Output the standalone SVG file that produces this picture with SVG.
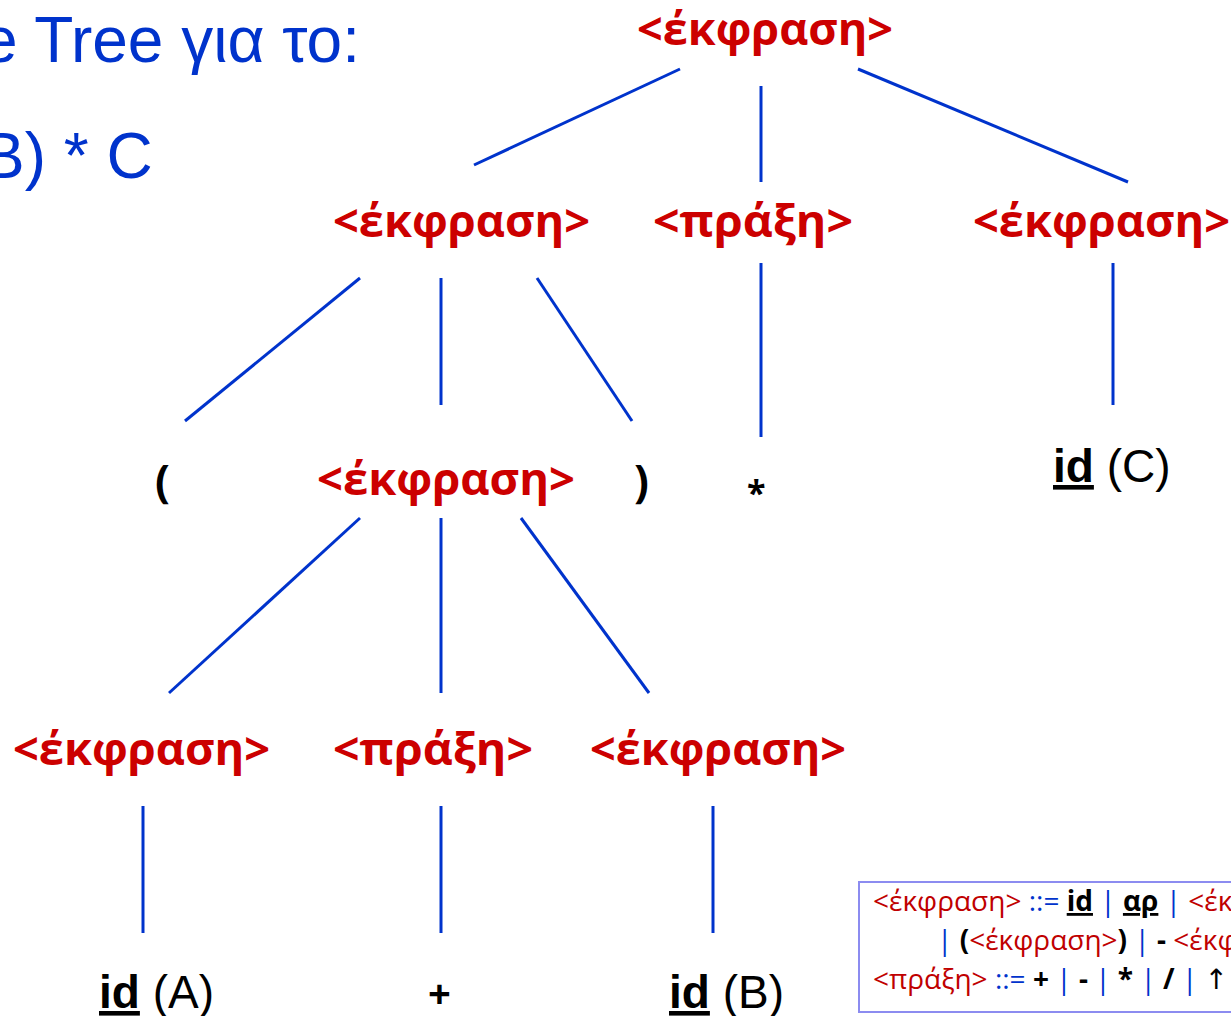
<svg xmlns="http://www.w3.org/2000/svg" width="1231" height="1016" viewBox="0 0 1231 1016">
<style>
.nt{font-family:"Open Sans","DejaVu Sans",sans-serif;font-weight:bold;font-size:44px;fill:#cc0000}
.title{font-family:"Liberation Sans",Arial,sans-serif;font-size:64px;fill:#0033cc}
.term{font-family:"Liberation Sans",Arial,sans-serif;font-size:46px;fill:#000}
.b{font-weight:bold}
.u{text-decoration:underline}
.pun{font-family:"Open Sans","DejaVu Sans",sans-serif;font-weight:bold;font-size:44px;fill:#000}
.edge{stroke:#0033cc;stroke-width:3;fill:none}
.lg{font-family:"Open Sans","DejaVu Sans",sans-serif;font-size:28px;fill:#c00000}
.bl{fill:#0033cc}
.bk{fill:#000}
</style>
<rect width="1231" height="1016" fill="#fff"/>
<g id="title">
<text class="title" x="-18" y="62">e Tree για το:</text>
<text class="title" x="-18" y="178">B) * C</text>
</g>
<g id="connectors">
<line class="edge" x1="680" y1="69" x2="474" y2="165"/>
<line class="edge" x1="761" y1="86" x2="761" y2="182"/>
<line class="edge" x1="858" y1="69" x2="1128" y2="182"/>
<line class="edge" x1="360" y1="278" x2="185" y2="421"/>
<line class="edge" x1="441" y1="278" x2="441" y2="405"/>
<line class="edge" x1="537" y1="278" x2="632" y2="421"/>
<line class="edge" x1="761" y1="263" x2="761" y2="437"/>
<line class="edge" x1="1113" y1="263" x2="1113" y2="405"/>
<line class="edge" x1="360" y1="518" x2="169" y2="693"/>
<line class="edge" x1="441" y1="518" x2="441" y2="693"/>
<line class="edge" x1="521" y1="518" x2="649" y2="693"/>
<line class="edge" x1="143" y1="806" x2="143" y2="933"/>
<line class="edge" x1="441" y1="806" x2="441" y2="933"/>
<line class="edge" x1="713" y1="806" x2="713" y2="933"/>
</g>
<g id="n-root"><text class="nt" x="637" y="45" textLength="256" lengthAdjust="spacingAndGlyphs">&lt;έκφραση&gt;</text></g>
<g id="n-expr-l"><text class="nt" x="333" y="237" textLength="257" lengthAdjust="spacingAndGlyphs">&lt;έκφραση&gt;</text></g>
<g id="n-op-top"><text class="nt" x="653" y="237" textLength="200" lengthAdjust="spacingAndGlyphs">&lt;πράξη&gt;</text></g>
<g id="n-expr-r"><text class="nt" x="973" y="237" textLength="257" lengthAdjust="spacingAndGlyphs">&lt;έκφραση&gt;</text></g>
<g id="n-lparen"><text class="pun" x="155" y="497">(</text></g>
<g id="n-expr-mid"><text class="nt" x="317" y="495" textLength="258" lengthAdjust="spacingAndGlyphs">&lt;έκφραση&gt;</text></g>
<g id="n-rparen"><text class="pun" x="634" y="497">)</text></g>
<g id="n-star"><text class="pun" x="747" y="505" style="font-size:34px">*</text></g>
<g id="n-idC"><text class="term" x="1053" y="482"><tspan class="b u">id</tspan> (C)</text></g>
<g id="n-expr-ll"><text class="nt" x="13" y="765" textLength="257" lengthAdjust="spacingAndGlyphs">&lt;έκφραση&gt;</text></g>
<g id="n-op-low"><text class="nt" x="333" y="765" textLength="200" lengthAdjust="spacingAndGlyphs">&lt;πράξη&gt;</text></g>
<g id="n-expr-lr"><text class="nt" x="590" y="765" textLength="256" lengthAdjust="spacingAndGlyphs">&lt;έκφραση&gt;</text></g>
<g id="n-idA"><text class="term" x="99" y="1008"><tspan class="b u">id</tspan> (A)</text></g>
<g id="n-plus"><text class="pun" x="428" y="1008" style="font-size:40px">+</text></g>
<g id="n-idB"><text class="term" x="669" y="1008"><tspan class="b u">id</tspan> (B)</text></g>
<g id="legend">
<rect x="859" y="882" width="380" height="130" fill="#fff" stroke="#8c8cf0" stroke-width="2"/>
<text class="lg" x="873" y="911">&lt;έκφραση&gt; <tspan class="bl">::=</tspan> <tspan class="bk b u">id</tspan> <tspan class="bl">|</tspan> <tspan class="bk b u">αρ</tspan> <tspan class="bl">|</tspan> &lt;έκ</text>
<text class="lg" x="937" y="950"><tspan class="bl">|</tspan> <tspan class="bk b">(</tspan>&lt;έκφραση&gt;<tspan class="bk b">)</tspan> <tspan class="bl">|</tspan> <tspan class="bk b">-</tspan> &lt;έκφ</text>
<text class="lg" x="873" y="989">&lt;πράξη&gt; <tspan class="bl">::=</tspan> <tspan class="bk b">+</tspan> <tspan class="bl">|</tspan> <tspan class="bk b">-</tspan> <tspan class="bl">|</tspan> <tspan class="bk b">*</tspan> <tspan class="bl">|</tspan> <tspan class="bk b">/</tspan> <tspan class="bl">|</tspan> <tspan class="bk">↑</tspan></text>
</g>
</svg>
